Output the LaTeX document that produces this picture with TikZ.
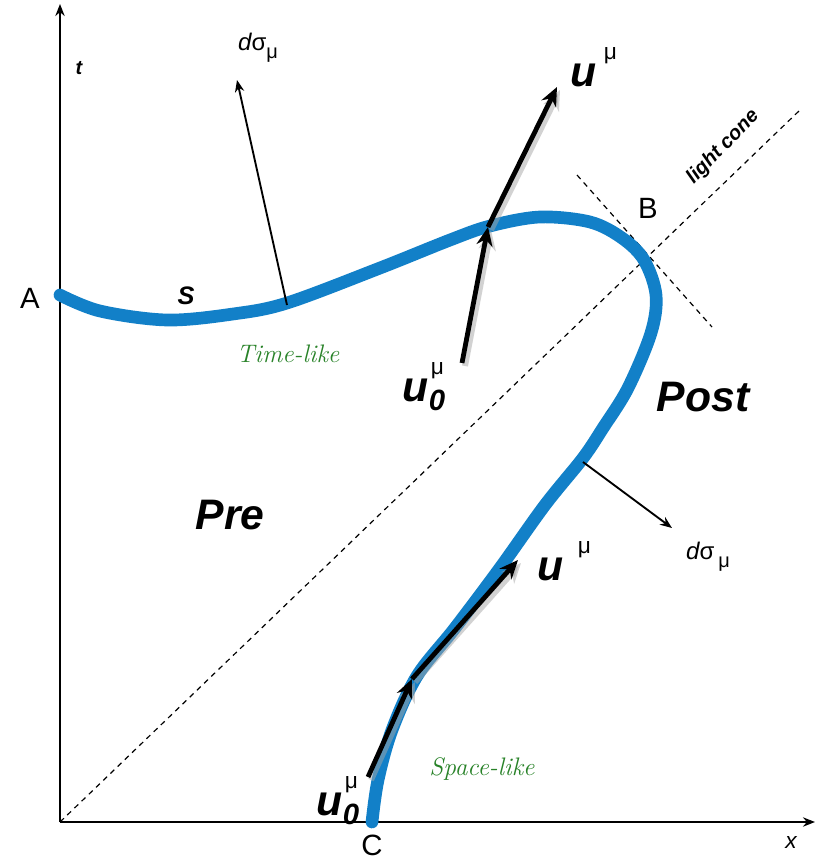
\documentclass[tikz,border=0pt]{standalone}
\usepackage{fontspec}
\setmainfont{Liberation Sans}
\usetikzlibrary{arrows.meta}
\definecolor{curveblue}{RGB}{18,128,200}
\definecolor{labgreen}{RGB}{40,130,40}
\newfontfamily\scriptlike{Latin Modern Roman}
\tikzset{
  axisline/.style={line width=1.9pt,-{Stealth[length=9pt,width=7pt]}},
  conedash/.style={line width=0.9pt,dash pattern=on 4pt off 3.5pt},
  surf/.style={line width=9.5pt,curveblue,line cap=round},
  thinarrow/.style={line width=1.4pt,-{Stealth[length=9pt,width=7pt]}},
  thickarrow/.style={line width=3.6pt,-{Stealth[length=14pt,width=12pt]}},
  shadowarrow/.style={line width=4.5pt,black!35,opacity=0.5,-{Stealth[length=15pt,width=13pt]}},
  bigit/.style={font=\fontsize{32}{32}\selectfont\bfseries\itshape},
  ptlabel/.style={font=\fontsize{22}{22}\selectfont},
  greenlab/.style={font=\fontsize{19}{19}\selectfont\scriptlike\itshape,text=labgreen},
  dsig/.style={font=\fontsize{18}{18}\selectfont}
}
\newcommand{\supmu}{\raisebox{0.62em}{\fontsize{17}{17}\selectfont\mdseries\upshape μ}}
\newcommand{\uzero}{u\rlap{\hspace{0.05em}\supmu}\raisebox{-0.22em}{\fontsize{22}{22}\selectfont 0}}
\begin{document}
\begin{tikzpicture}[x=0.75pt,y=-0.75pt]
\useasboundingbox (0,0) rectangle (816,861);
% axes
\coordinate (O) at (60,822);
\coordinate (tEnd) at (60,4);
\coordinate (xEnd) at (815,822);
\draw[axisline] (O) -- (tEnd);
\draw[axisline] (O) -- (xEnd);
\node[font=\fontsize{15}{15}\selectfont\bfseries\itshape] (tlab) at (79,68) {t};
\node[font=\fontsize{17}{17}\selectfont\itshape] (xlab) at (791,843) {x};
% light cone
\coordinate (lcEnd) at (800,110);
\draw[conedash] (O) -- (lcEnd);
\coordinate (p1) at (577,175);
\coordinate (p2) at (712,327);
\draw[conedash] (p1) -- (p2);
\node[rotate=46,inner sep=0pt,font=\fontsize{15}{15}\selectfont\bfseries\itshape] (lclab) at (723,147) {light cone};
% surface
\draw[surf] plot[smooth,tension=0.55] coordinates {
 (60,295) (100,311) (167,320) (233,314) (287,303) (380,268) (450,240) (490,226)
 (540,217) (590,222) (622,238) (644,260) (656,295) (651,333) (628,388) (603,428)
 (583,458) (545,505) (500,568) (455,628) (417,676) (392,730) (378,780) (372,822)};
% point labels
\node[ptlabel] (A) at (30,298) {A};
\node[ptlabel] (B) at (648,208) {B};
\node[ptlabel,inner sep=0pt] (C) at (372,845) {C};
\node[font=\fontsize{19}{19}\selectfont\bfseries\itshape] (S) at (186,296) {S};
% regions
\node[bigit] (Pre) at (230,515) {Pre};
\node[bigit] (Post) at (703,397) {Post};
% green labels
\node[greenlab] (tl) at (288,354) {Time-like};
\node[greenlab] (sl) at (482,769) {Space-like};
% upper normal
\coordinate (n1s) at (287,305);
\coordinate (n1e) at (237,80);
\draw[thinarrow] (n1s) -- (n1e);
\node[dsig] (ds1) at (258,48) {\itshape d\upshape σ\raisebox{-0.35em}{\fontsize{15}{15}\selectfont μ}};
% lower normal
\coordinate (n2s) at (583,462);
\coordinate (n2e) at (672,528);
\draw[thinarrow] (n2s) -- (n2e);
\node[dsig] (ds2) at (708,557) {\itshape d\upshape σ\,\raisebox{-0.35em}{\fontsize{15}{15}\selectfont μ}};
% upper velocity arrows
\coordinate (ua0) at (462,363);
\coordinate (ua1) at (488,227);
\coordinate (ua2) at (557,87);
\draw[shadowarrow] ([shift={(3,3)}]ua0) -- ([shift={(3,3)}]ua1);
\draw[shadowarrow] ([shift={(3,3)}]ua1) -- ([shift={(3,3)}]ua2);
\draw[thickarrow] (ua0) -- (ua1);
\draw[thickarrow] (ua1) -- (ua2);
\node[bigit,anchor=base west] (u1) at (566,86) {u\,\supmu};
\node[bigit,anchor=base west] (u01) at (398,401) {\uzero};
% lower velocity arrows
\coordinate (la0) at (368,777);
\coordinate (la1) at (412,679);
\coordinate (la2) at (518,560);
\draw[shadowarrow] ([shift={(3,3)}]la0) -- ([shift={(3,3)}]la1);
\draw[shadowarrow] ([shift={(3,3)}]la1) -- ([shift={(3,3)}]la2);
\draw[thickarrow] (la0) -- (la1);
\draw[thickarrow] (la1) -- (la2);
\node[bigit,anchor=base west] (u2) at (533,580) {u\,\,\supmu};
\node[bigit,anchor=base west] (u02) at (312,815) {\uzero};
\end{tikzpicture}
\end{document}
